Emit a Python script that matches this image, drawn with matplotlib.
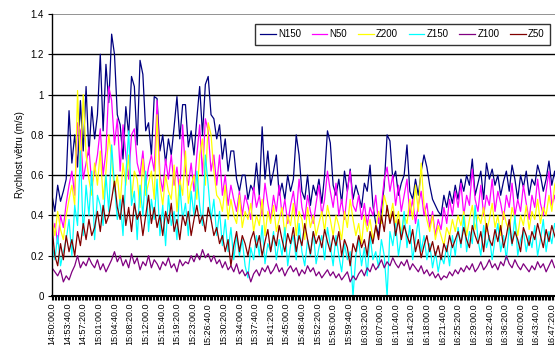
import numpy as np
import matplotlib
matplotlib.use('Agg')
import matplotlib.pyplot as plt

# wind speed records, one sample every 40 s from 14:50:00
step_s = 40
start_s = 14 * 3600 + 50 * 60

n150 = [0.50, 0.42, 0.55, 0.47, 0.52, 0.58, 0.92, 0.66, 0.80, 0.64, 0.97, 0.72,
        1.04, 0.70, 0.94, 0.78, 0.90, 1.20, 0.82, 1.15, 0.96, 1.30, 1.20, 0.90,
        0.85, 0.68, 0.94, 0.80, 1.09, 1.04, 0.75, 1.17, 1.10, 0.82, 0.86, 0.70,
        0.99, 0.98, 0.72, 0.80, 0.66, 0.78, 0.70, 0.84, 0.99, 0.78, 0.95, 0.95,
        0.74, 0.82, 0.70, 0.88, 1.04, 0.80, 1.05, 1.09, 0.90, 0.88, 0.78, 0.85,
        0.68, 0.78, 0.62, 0.72, 0.72, 0.58, 0.52, 0.60, 0.60, 0.48, 0.55, 0.52,
        0.66, 0.50, 0.84, 0.58, 0.72, 0.55, 0.62, 0.70, 0.50, 0.56, 0.48, 0.60,
        0.52, 0.58, 0.80, 0.70, 0.52, 0.48, 0.60, 0.45, 0.55, 0.50, 0.58, 0.46,
        0.60, 0.82, 0.76, 0.55, 0.50, 0.58, 0.46, 0.62, 0.52, 0.63, 0.48, 0.55,
        0.50, 0.44, 0.56, 0.52, 0.65, 0.45, 0.36, 0.30, 0.42, 0.55, 0.80, 0.77,
        0.58, 0.62, 0.50, 0.56, 0.60, 0.75, 0.52, 0.48, 0.58, 0.50, 0.62, 0.70,
        0.64, 0.55, 0.48, 0.45, 0.42, 0.40, 0.50, 0.44, 0.52, 0.46, 0.55, 0.48,
        0.58, 0.52, 0.60, 0.55, 0.68, 0.50, 0.56, 0.62, 0.48, 0.66, 0.58, 0.63,
        0.55, 0.60, 0.50, 0.57, 0.62, 0.52, 0.65, 0.58, 0.48, 0.60, 0.54, 0.62,
        0.50, 0.58, 0.55, 0.65, 0.60, 0.52, 0.58, 0.67, 0.55, 0.62, 0.50, 0.58]

n50 = [0.30, 0.36, 0.26, 0.40, 0.34, 0.46, 0.55, 0.62, 0.50, 0.86, 0.82, 0.58,
       0.66, 0.74, 0.55, 0.62, 0.70, 0.83, 0.60, 0.72, 1.04, 0.97, 0.75, 0.88,
       0.62, 0.85, 0.70, 0.58, 0.80, 0.83, 0.66, 0.60, 0.72, 0.55, 0.64, 0.70,
       0.62, 0.97, 0.60, 0.52, 0.68, 0.58, 0.70, 0.55, 0.64, 0.50, 0.85, 0.62,
       0.55, 0.66, 0.52, 0.70, 0.85, 0.60, 0.88, 0.82, 0.62, 0.70, 0.55, 0.70,
       0.50, 0.60, 0.45, 0.55, 0.48, 0.42, 0.52, 0.40, 0.50, 0.45, 0.38, 0.54,
       0.44, 0.50, 0.40, 0.56, 0.46, 0.38, 0.50, 0.42, 0.55, 0.40, 0.48, 0.36,
       0.45, 0.52, 0.40, 0.58, 0.44, 0.38, 0.50, 0.42, 0.36, 0.46, 0.55, 0.40,
       0.48, 0.62, 0.52, 0.44, 0.56, 0.40, 0.48, 0.38, 0.52, 0.62, 0.45, 0.42,
       0.50, 0.38, 0.46, 0.35, 0.44, 0.40, 0.50, 0.36, 0.45, 0.58, 0.64, 0.52,
       0.60, 0.45, 0.55, 0.42, 0.50, 0.58, 0.40, 0.48, 0.36, 0.45, 0.52, 0.40,
       0.46, 0.34, 0.42, 0.30, 0.38, 0.33, 0.44, 0.36, 0.48, 0.40, 0.52, 0.44,
       0.56, 0.40, 0.50, 0.45, 0.63, 0.48, 0.42, 0.55, 0.40, 0.50, 0.45, 0.58,
       0.42, 0.52, 0.46, 0.38, 0.50, 0.44, 0.56, 0.40, 0.48, 0.42, 0.55, 0.46,
       0.38, 0.50, 0.44, 0.58, 0.46, 0.40, 0.52, 0.62, 0.45, 0.50, 0.40, 0.48]

z200 = [0.38, 0.30, 0.42, 0.33, 0.28, 0.40, 0.48, 0.55, 0.45, 1.02, 0.62, 1.00,
        0.70, 0.58, 0.50, 0.66, 0.55, 0.72, 0.48, 0.62, 0.80, 0.68, 0.52, 0.60,
        0.45, 0.66, 0.55, 0.70, 0.48, 0.62, 0.58, 0.44, 0.68, 0.50, 0.56, 0.62,
        0.48, 0.90, 0.55, 0.45, 0.60, 0.52, 0.48, 0.65, 0.42, 0.58, 0.50, 0.72,
        0.46, 0.55, 0.60, 0.48, 0.70, 0.78, 0.55, 0.86, 0.80, 0.62, 0.50, 0.48,
        0.42, 0.55, 0.38, 0.48, 0.40, 0.36, 0.50, 0.34, 0.42, 0.38, 0.46, 0.32,
        0.40, 0.35, 0.48, 0.30, 0.42, 0.36, 0.45, 0.32, 0.38, 0.44, 0.30, 0.40,
        0.35, 0.46, 0.30, 0.42, 0.38, 0.28, 0.44, 0.34, 0.40, 0.30, 0.36, 0.42,
        0.32, 0.45, 0.38, 0.30, 0.40, 0.35, 0.28, 0.42, 0.34, 0.48, 0.38, 0.30,
        0.36, 0.26, 0.40, 0.32, 0.38, 0.28, 0.34, 0.42, 0.36, 0.50, 0.44, 0.38,
        0.46, 0.35, 0.42, 0.30, 0.40, 0.36, 0.48, 0.38, 0.55, 0.42, 0.66, 0.45,
        0.38, 0.32, 0.40, 0.28, 0.35, 0.30, 0.25, 0.34, 0.30, 0.38, 0.32, 0.40,
        0.35, 0.42, 0.30, 0.38, 0.45, 0.33, 0.40, 0.36, 0.44, 0.32, 0.38, 0.46,
        0.34, 0.40, 0.30, 0.42, 0.36, 0.32, 0.44, 0.38, 0.30, 0.40, 0.35, 0.45,
        0.33, 0.42, 0.38, 0.48, 0.36, 0.44, 0.40, 0.50, 0.42, 0.55, 0.60, 0.45]

z150 = [0.25, 0.18, 0.30, 0.15, 0.22, 0.28, 0.38, 0.20, 0.45, 0.35, 0.72, 0.30,
        0.55, 0.40, 0.62, 0.28, 0.50, 0.45, 0.35, 0.60, 0.42, 0.75, 0.55, 0.38,
        0.48, 0.30, 0.60, 0.82, 0.45, 0.52, 0.28, 0.55, 0.40, 0.62, 0.32, 0.48,
        0.38, 0.58, 0.30, 0.45, 0.25, 0.50, 0.35, 0.42, 0.28, 0.55, 0.38, 0.46,
        0.30, 0.52, 0.40, 0.62, 0.45, 0.35, 0.70, 0.55, 0.38, 0.48, 0.30, 0.42,
        0.25, 0.38, 0.22, 0.34, 0.18, 0.30, 0.20, 0.28, 0.15, 0.09, 0.24, 0.18,
        0.30, 0.20, 0.35, 0.16, 0.26, 0.22, 0.32, 0.18, 0.28, 0.20, 0.34, 0.15,
        0.25, 0.30, 0.18, 0.36, 0.22, 0.15, 0.28, 0.20, 0.32, 0.16, 0.24, 0.30,
        0.18, 0.34, 0.25, 0.15, 0.30, 0.20, 0.12, 0.26, 0.18, 0.22, 0.00, 0.20,
        0.28, 0.15, 0.24, 0.10, 0.30, 0.18, 0.22, 0.14, 0.28, 0.20, 0.00, 0.32,
        0.25, 0.36, 0.20, 0.30, 0.42, 0.24, 0.35, 0.18, 0.28, 0.38, 0.22, 0.30,
        0.18, 0.26, 0.14, 0.22, 0.12, 0.20, 0.16, 0.25, 0.15, 0.30, 0.20, 0.34,
        0.24, 0.40, 0.22, 0.32, 0.26, 0.45, 0.28, 0.20, 0.35, 0.24, 0.30, 0.18,
        0.28, 0.36, 0.22, 0.30, 0.18, 0.34, 0.25, 0.40, 0.20, 0.28, 0.32, 0.22,
        0.30, 0.24, 0.35, 0.20, 0.28, 0.38, 0.22, 0.32, 0.26, 0.36, 0.30, 0.24]

z100 = [0.14, 0.12, 0.10, 0.13, 0.07, 0.10, 0.08, 0.12, 0.15, 0.20, 0.14, 0.17,
        0.15, 0.19, 0.16, 0.14, 0.18, 0.13, 0.16, 0.12, 0.15, 0.18, 0.22, 0.17,
        0.20, 0.15, 0.18, 0.14, 0.21, 0.16, 0.19, 0.13, 0.17, 0.15, 0.20, 0.14,
        0.18, 0.16, 0.13, 0.17, 0.15, 0.19, 0.14, 0.16, 0.12, 0.18, 0.15, 0.17,
        0.16, 0.20, 0.17, 0.21, 0.18, 0.23, 0.19, 0.21, 0.17, 0.20, 0.16, 0.18,
        0.14, 0.17, 0.13, 0.15, 0.12, 0.16, 0.11, 0.13, 0.10, 0.12, 0.07, 0.11,
        0.13, 0.10, 0.14, 0.12, 0.15, 0.11, 0.13, 0.16, 0.12, 0.14, 0.10, 0.13,
        0.15, 0.12, 0.14, 0.10, 0.13, 0.11, 0.15, 0.12, 0.14, 0.10, 0.12, 0.09,
        0.11, 0.13, 0.10, 0.12, 0.09, 0.11, 0.08, 0.10, 0.12, 0.07, 0.10, 0.08,
        0.11, 0.13, 0.10, 0.14, 0.12, 0.16, 0.13, 0.15, 0.18, 0.14, 0.17, 0.15,
        0.19, 0.16, 0.14, 0.17, 0.15, 0.18, 0.13, 0.16, 0.14, 0.12, 0.15, 0.11,
        0.13, 0.10, 0.12, 0.09, 0.11, 0.08, 0.10, 0.09, 0.12, 0.10, 0.13, 0.11,
        0.14, 0.12, 0.15, 0.13, 0.16, 0.12, 0.14, 0.17, 0.13, 0.15, 0.18, 0.14,
        0.16, 0.13, 0.17, 0.15, 0.20, 0.16, 0.14, 0.18, 0.15, 0.13, 0.16, 0.14,
        0.12, 0.15, 0.13, 0.17, 0.14, 0.16, 0.12, 0.15, 0.18, 0.14, 0.16, 0.13]

z50 = [0.34, 0.20, 0.15, 0.26, 0.18, 0.30, 0.22, 0.28, 0.20, 0.32, 0.25, 0.36,
       0.28, 0.38, 0.30, 0.34, 0.42, 0.32, 0.45, 0.36, 0.40, 0.48, 0.57, 0.44,
       0.38, 0.50, 0.35, 0.44, 0.32, 0.46, 0.38, 0.42, 0.30, 0.40, 0.50, 0.36,
       0.44, 0.34, 0.40, 0.30, 0.42, 0.36, 0.46, 0.32, 0.38, 0.28, 0.40, 0.35,
       0.42, 0.30, 0.38, 0.45, 0.36, 0.40, 0.32, 0.44, 0.38, 0.30, 0.34, 0.26,
       0.30, 0.22, 0.28, 0.15, 0.25, 0.32, 0.22, 0.30, 0.26, 0.20, 0.28, 0.32,
       0.24, 0.30, 0.20, 0.27, 0.33, 0.22, 0.30, 0.25, 0.35, 0.28, 0.22, 0.31,
       0.26, 0.34, 0.22, 0.30, 0.25, 0.36, 0.28, 0.21, 0.32, 0.26, 0.30, 0.24,
       0.33, 0.27, 0.22, 0.30, 0.25, 0.32, 0.20, 0.28, 0.24, 0.15, 0.26, 0.22,
       0.30, 0.24, 0.28, 0.20, 0.32, 0.26, 0.35, 0.28, 0.40, 0.32, 0.45, 0.36,
       0.42, 0.30, 0.38, 0.28, 0.35, 0.30, 0.26, 0.33, 0.22, 0.28, 0.19, 0.25,
       0.30, 0.22, 0.27, 0.20, 0.25, 0.18, 0.26, 0.22, 0.30, 0.24, 0.28, 0.32,
       0.26, 0.34, 0.28, 0.24, 0.35, 0.30, 0.26, 0.32, 0.22, 0.36, 0.28, 0.25,
       0.33, 0.27, 0.35, 0.24, 0.30, 0.38, 0.26, 0.32, 0.28, 0.22, 0.34, 0.30,
       0.25, 0.32, 0.28, 0.36, 0.30, 0.24, 0.33, 0.27, 0.35, 0.30, 0.26, 0.32]

series_names = ['N150', 'N50', 'Z200', 'Z150', 'Z100', 'Z50']
series_colors = ['#000080', '#FF00FF', '#FFFF00', '#00FFFF', '#800080', '#800000']
series_data = [n150, n50, z200, z150, z100, z50]

label_step_s = 220
n_labels = 33

plt.rcParams['font.family'] = ['Liberation Sans', 'DejaVu Sans']

fig = plt.figure(figsize=(5.55, 3.45), dpi=100)
ax = fig.add_axes([52 / 555, 1 - 296 / 345, 1 - 52 / 555, (296 - 14) / 345])

t = np.arange(len(n150)) * step_s
for name, col, vals in zip(series_names, series_colors, series_data):
    ax.plot(t, vals, color=col, lw=0.9, label=name)

ax.set_xlim(0, 7085)
ax.set_ylim(0, 1.4)

yt = np.arange(0, 1.41, 0.2)
ax.set_yticks(yt)
ax.set_yticklabels(['0', '0.2', '0.4', '0.6', '0.8', '1', '1.2', '1.4'], fontsize=7)
for y in yt[1:-1]:
    ax.axhline(y, color='black', lw=1.0, zorder=0)
ax.axhline(1.4, color='#808080', lw=1.2, zorder=0)

xt = np.arange(n_labels) * label_step_s
xlabels = []
for s in xt:
    tt = start_s + s
    xlabels.append('%d:%02d:%02d.0' % (tt // 3600, (tt % 3600) // 60, tt % 60))
ax.set_xticks(xt)
ax.set_xticklabels(xlabels, rotation=90, fontsize=6.5)
ax.set_xticks(np.arange(0, 7085, 20), minor=True)
ax.tick_params(axis='x', which='both', length=3, width=0.8, direction='out', pad=2)
ax.tick_params(axis='y', length=3, width=0.8, pad=3)

for sp in ['top', 'right']:
    ax.spines[sp].set_visible(False)
ax.spines['left'].set_linewidth(1.0)
ax.spines['bottom'].set_linewidth(1.5)

ax.set_ylabel('Rychlost větru (m/s)', fontsize=7, labelpad=4)

leg = ax.legend(loc='upper right', bbox_to_anchor=(550 / 555, 1 - 24 / 345),
                bbox_transform=fig.transFigure, ncol=6, fontsize=7,
                frameon=True, fancybox=False, handlelength=1.6,
                handletextpad=0.25, columnspacing=1.1, borderpad=0.55,
                borderaxespad=0.0)
leg.get_frame().set_edgecolor('black')
leg.get_frame().set_linewidth(1.0)

fig.savefig('out.png', dpi=100)
